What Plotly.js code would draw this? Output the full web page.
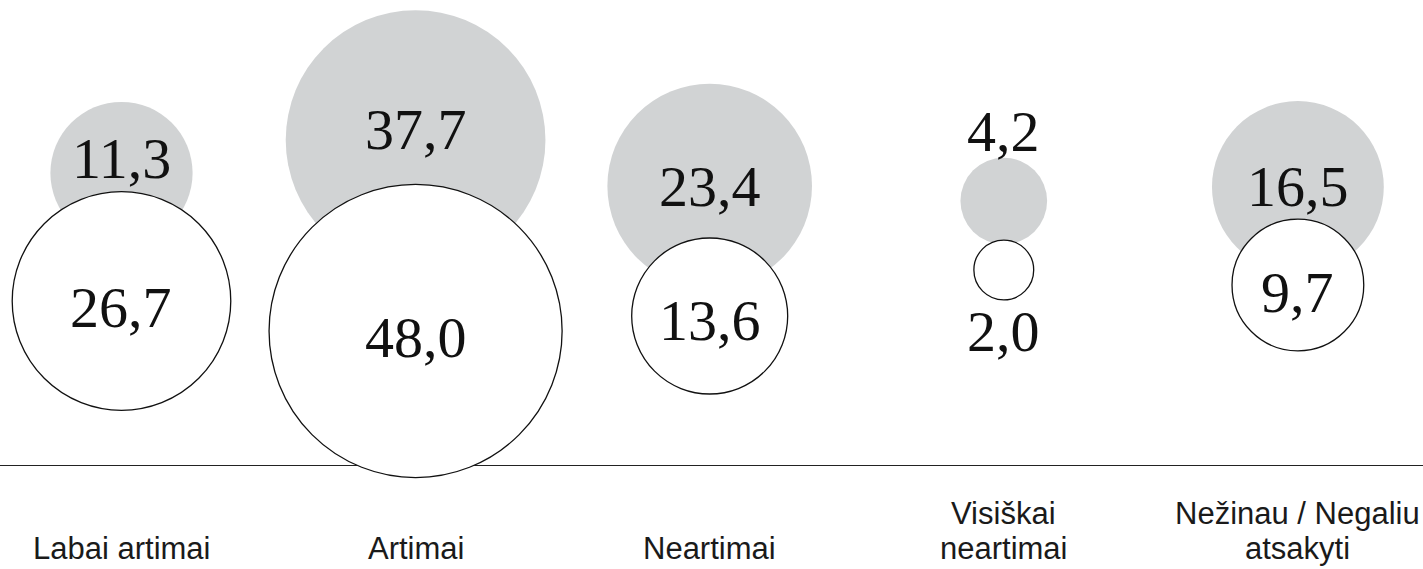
<!DOCTYPE html>
<html>
<head>
<meta charset="utf-8">
<script src="https://cdn.plot.ly/plotly-3.0.1.min.js"></script>
<style>
  html, body { margin: 0; padding: 0; background: #ffffff; }
  #chart { width: 1423px; height: 569px; }
</style>
</head>
<body>
<div id="chart"></div>
<script>
// ---- data ----
const categories = ['Labai artimai', 'Artimai', 'Neartimai', 'Visiškai neartimai', 'Nežinau / Negaliu atsakyti'];
const categoryLabels = ['Labai artimai', 'Artimai', 'Neartimai', 'Visiškai<br>neartimai', 'Nežinau / Negaliu<br>atsakyti'];
const greySeries = [11.3, 37.7, 23.4, 4.2, 16.5];
const whiteSeries = [26.7, 48.0, 13.6, 2.0, 9.7];

// ---- layout helpers (vertical placement, px from the top of the plot) ----
const greyCenterY = [173, 140, 186, 201, 187];
const whiteCenterY = [301, 331, 316, 270, 285];
// label offsets from the bubble centre, px (positive = up)
const greyLabelShift = [15, 11, 0, 70, 1];
const whiteLabelShift = [-6, -6, -4, -61, -7];

const fmt = v => v.toFixed(1).replace('.', ',');
const pxPerUnit = 21.15;
const sizeref = 1 / (2 * pxPerUnit * pxPerUnit);
const numFont = { family: '"Liberation Serif", "DejaVu Serif", serif', size: 58, color: '#111111' };
const catFont = { family: '"Liberation Sans", Arial, sans-serif', size: 31, color: '#1a1a1a' };

const traces = [
  {
    type: 'scatter', mode: 'markers', cliponaxis: false,
    x: categories, y: greyCenterY,
    marker: { size: greySeries, sizemode: 'area', sizeref: sizeref, color: '#d1d3d4', line: { width: 0 }, opacity: 1 },
    hoverinfo: 'skip', showlegend: false
  },
  {
    type: 'scatter', mode: 'markers', cliponaxis: false,
    x: categories, y: whiteCenterY,
    marker: { size: whiteSeries, sizemode: 'area', sizeref: sizeref, color: '#ffffff', line: { width: 1.3, color: '#111111' }, opacity: 1 },
    hoverinfo: 'skip', showlegend: false
  }
];

const annotations = [];
categories.forEach((c, i) => {
  annotations.push({
    x: c, xref: 'x', y: greyCenterY[i], yref: 'y', yshift: greyLabelShift[i],
    xanchor: 'center', yanchor: 'middle', showarrow: false,
    text: fmt(greySeries[i]), font: numFont
  });
  annotations.push({
    x: c, xref: 'x', y: whiteCenterY[i], yref: 'y', yshift: whiteLabelShift[i],
    xanchor: 'center', yanchor: 'middle', showarrow: false,
    text: fmt(whiteSeries[i]), font: numFont
  });
  const lines = categoryLabels[i].split('<br>');
  lines.forEach((ln, j) => {
    const fromBottom = lines.length - 1 - j;
    annotations.push({
      x: c, xref: 'x', y: 0, yref: 'paper', yshift: -83 + fromBottom * 35,
      xanchor: 'center', yanchor: 'middle', showarrow: false,
      text: ln, font: catFont
    });
  });
});

const layout = {
  width: 1423, height: 569,
  margin: { l: 0, r: 0, t: 0, b: 104, pad: 0 },
  paper_bgcolor: '#ffffff', plot_bgcolor: '#ffffff',
  xaxis: {
    type: 'category', range: [-0.4131, 4.4254], fixedrange: true,
    showgrid: false, zeroline: false, showticklabels: false, ticks: '',
    showline: true, linecolor: '#222222', linewidth: 1.3, layer: 'below traces'
  },
  yaxis: {
    range: [465, 0], autorange: false, fixedrange: true,
    showgrid: false, zeroline: false, showticklabels: false, ticks: '', showline: false
  },
  annotations: annotations,
  showlegend: false
};

Plotly.newPlot('chart', traces, layout, { staticPlot: true, displayModeBar: false });
</script>
</body>
</html>
